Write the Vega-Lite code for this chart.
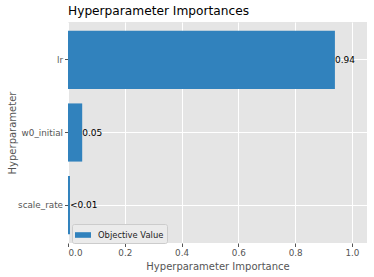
{
  "$schema": "https://vega.github.io/schema/vega-lite/v6.json",
  "width": 299,
  "height": 221,
  "autosize": {"type": "none"},
  "padding": {"left": 68, "top": 22, "right": 7, "bottom": 34},
  "background": "white",
  "title": {"text": "Hyperparameter Importances", "anchor": "start", "frame": "group", "font": "DejaVu Sans", "fontSize": 12.2, "fontWeight": 400, "color": "#000000", "offset": 5},
  "config": {
    "view": {"fill": "#E5E5E5", "stroke": null},
    "font": "DejaVu Sans",
    "title": {"fontWeight": 400},
    "axis": {
      "domain": false,
      "gridColor": "#FFFFFF",
      "gridWidth": 1,
      "gridOpacity": 1,
      "tickColor": "#555555",
      "tickSize": 3.5,
      "labelColor": "#555555",
      "labelFont": "DejaVu Sans",
      "labelFontSize": 8.8,
      "labelPadding": 2,
      "titleColor": "#555555",
      "titleFont": "DejaVu Sans",
      "titleFontSize": 10,
      "titleFontWeight": "normal"
    }
  },
  "data": {
    "values": [
      {"param": "lr", "importance": 0.94, "label": "0.94", "series": "Objective Value"},
      {"param": "w0_initial", "importance": 0.05, "label": "0.05", "series": "Objective Value"},
      {"param": "scale_rate", "importance": 0.007, "label": "<0.01", "series": "Objective Value"}
    ]
  },
  "encoding": {
    "y": {
      "field": "param",
      "type": "nominal",
      "sort": ["lr", "w0_initial", "scale_rate"],
      "scale": {"paddingInner": 0.2, "paddingOuter": 0.12},
      "axis": {"title": "Hyperparameter", "bandPosition": 0.5, "grid": true, "titlePadding": 0}
    },
    "x": {
      "field": "importance",
      "type": "quantitative",
      "scale": {"domain": [0, 1.053], "nice": false, "zero": true},
      "axis": {"title": "Hyperparameter Importance", "values": [0, 0.2, 0.4, 0.6, 0.8, 1.0], "format": ".1f", "titlePadding": 4}
    }
  },
  "layer": [
    {
      "mark": {"type": "bar"},
      "encoding": {
        "color": {
          "field": "series",
          "type": "nominal",
          "scale": {"range": ["#3182bd"]},
          "legend": {
            "title": null,
            "orient": "none",
            "legendX": 4,
            "legendY": 202,
            "fillColor": "#EBEBEB",
            "strokeColor": "#CCCCCC",
            "cornerRadius": 2,
            "padding": 3,
            "symbolType": "M-1,-0.35H1V0.35H-1Z",
            "symbolSize": 256,
            "symbolStrokeWidth": 0,
            "symbolOpacity": 1,
            "labelFont": "DejaVu Sans",
            "labelFontSize": 8.4,
            "labelColor": "#222222",
            "labelOffset": 7
          }
        }
      }
    },
    {
      "mark": {"type": "text", "align": "left", "baseline": "middle", "dx": 0, "font": "DejaVu Sans", "fontSize": 9, "color": "#000000"},
      "encoding": {"text": {"field": "label"}}
    }
  ]
}
